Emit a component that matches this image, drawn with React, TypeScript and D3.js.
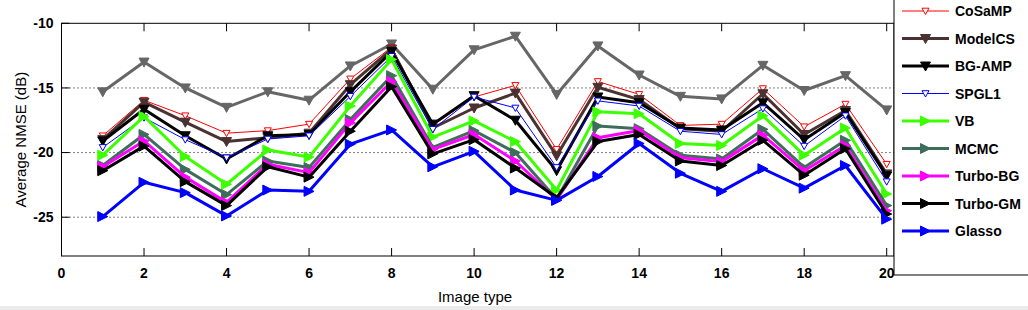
import React from 'react';
import {scaleLinear, line, range} from 'd3';

const width = 1028;
const height = 310;
const plot = {left: 61.5, top: 23.3, right: 894, bottom: 256};

const imageType = range(1, 21);
const xTicks = [0, 2, 4, 6, 8, 10, 12, 14, 16, 18, 20];
const yTicks = [-10, -15, -20, -25];
const gridTicks = [-15, -20, -25];

const unnamed = [-15.3, -13.0, -15.0, -16.5, -15.3, -15.95, -13.3, -11.6, -15.1, -12.05, -11.0, -15.5, -11.75, -14.0, -15.65, -15.85, -13.25, -15.2, -14.05, -16.7];
const cosamp = [-18.7, -15.95, -17.15, -18.5, -18.3, -17.8, -14.3, -11.85, -17.9, -15.7, -14.8, -19.75, -14.5, -15.5, -17.9, -17.8, -15.05, -18.0, -16.25, -20.9];
const modelcs = [-19.0, -16.1, -17.65, -19.15, -18.85, -18.5, -14.75, -12.0, -18.1, -16.55, -15.4, -20.25, -14.95, -15.9, -18.15, -18.35, -15.45, -18.6, -16.75, -21.65];
const bgamp = [-19.1, -16.65, -18.7, -20.5, -18.7, -18.6, -15.3, -12.2, -17.8, -15.6, -17.5, -21.4, -15.7, -16.15, -18.1, -18.25, -16.15, -19.0, -16.9, -21.8];
const spgl1 = [-19.6, -17.3, -19.0, -20.4, -18.95, -18.7, -15.65, -12.55, -18.2, -15.7, -16.55, -21.15, -16.0, -16.4, -18.35, -18.6, -16.6, -19.5, -17.15, -22.25];
const vb = [-20.2, -17.2, -20.3, -22.45, -19.8, -20.35, -16.4, -12.8, -18.8, -17.55, -19.15, -22.9, -16.85, -17.0, -19.3, -19.45, -17.15, -20.2, -18.1, -23.2];
const mcmc = [-21.0, -18.6, -21.3, -23.25, -20.65, -21.15, -17.45, -14.05, -19.6, -18.3, -20.0, -23.6, -17.95, -18.15, -20.2, -20.5, -18.2, -21.15, -19.05, -24.1];
const turboBG = [-21.1, -19.1, -21.9, -23.85, -20.9, -21.55, -17.7, -14.5, -19.75, -18.6, -20.65, -23.65, -18.85, -18.3, -20.4, -20.7, -18.65, -21.4, -19.45, -24.5];
const turboGM = [-21.4, -19.5, -22.25, -24.1, -21.1, -21.9, -18.35, -14.9, -20.1, -19.0, -21.2, -23.5, -19.15, -18.6, -20.65, -21.0, -19.05, -21.75, -19.7, -24.75];
const glasso = [-24.95, -22.3, -23.1, -24.9, -22.9, -23.0, -19.35, -18.25, -21.1, -19.9, -22.9, -23.7, -21.85, -19.3, -21.6, -23.0, -21.25, -22.75, -21.0, -25.15];

// name, values, colour, thick?, marker ('down' | 'downOpen' | 'right')
const series = [
  {name: '', values: unnamed, color: '#666666', w: 3, marker: 'down'},
  {name: 'CoSaMP', values: cosamp, color: '#ff0000', w: 1, marker: 'downOpen'},
  {name: 'ModelCS', values: modelcs, color: '#4b3131', w: 3, marker: 'down'},
  {name: 'BG-AMP', values: bgamp, color: '#000000', w: 3, marker: 'down'},
  {name: 'SPGL1', values: spgl1, color: '#0000ff', w: 1, marker: 'downOpen'},
  {name: 'VB', values: vb, color: '#3cff00', w: 3, marker: 'right'},
  {name: 'MCMC', values: mcmc, color: '#3e6e5b', w: 3, marker: 'right'},
  {name: 'Turbo-BG', values: turboBG, color: '#ff00ff', w: 3, marker: 'right'},
  {name: 'Turbo-GM', values: turboGM, color: '#000000', w: 3, marker: 'right'},
  {name: 'Glasso', values: glasso, color: '#0000ff', w: 3, marker: 'right'},
];

const font = 'Arial, "Liberation Sans", Helvetica, sans-serif';

const Marker = ({x, y, kind, color}: {x: number; y: number; kind: string; color: string}) => {
  if (kind === 'right') {
    const s = 5;
    return <path d={`M${x - s},${y - s}L${x + s},${y}L${x - s},${y + s}Z`} fill={color} stroke={color} strokeWidth={1} />;
  }
  const s = kind === 'down' ? 5 : 3.5;
  return (
    <path
      d={`M${x - s},${y - s * 0.8}L${x + s},${y - s * 0.8}L${x},${y + s}Z`}
      fill={kind === 'down' ? color : 'white'}
      stroke={color}
      strokeWidth={1}
    />
  );
};

export default function App() {
  const xScale = scaleLinear().domain([0, 20]).range([61.5, 886.7]);
  const yScale = scaleLinear().domain([-10, -28]).range([plot.top, plot.bottom]);
  const path = line<number>()
    .x((_, i) => xScale(imageType[i]))
    .y((d) => yScale(d));

  const legendX = 894;
  const legendY = (i: number) => 11 + i * 27.5;

  return (
    <svg width={width} height={height} style={{position: 'absolute', left: 0, top: 0, background: 'white'}} fontFamily={font}>
      <rect x={0} y={306} width={width} height={4} fill="#ebebeb" />
      {gridTicks.map((t) => (
        <line key={t} x1={plot.left} x2={plot.right} y1={yScale(t)} y2={yScale(t)} stroke="black" strokeWidth={1} strokeDasharray="1,3" />
      ))}
      <rect x={plot.left} y={plot.top} width={plot.right - plot.left} height={plot.bottom - plot.top} fill="none" stroke="black" strokeWidth={1} />
      {xTicks.map((t) => (
        <g key={t}>
          <line x1={xScale(t)} x2={xScale(t)} y1={plot.bottom} y2={plot.bottom - 8} stroke="black" />
          <line x1={xScale(t)} x2={xScale(t)} y1={plot.top} y2={plot.top + 8} stroke="black" />
          <text x={xScale(t)} y={plot.bottom + 22} textAnchor="middle" fontSize={14} fontWeight="bold">{t}</text>
        </g>
      ))}
      {yTicks.map((t) => (
        <g key={t}>
          <line x1={plot.left} x2={plot.left + 8} y1={yScale(t)} y2={yScale(t)} stroke="black" />
          <text x={plot.left - 8} y={yScale(t)} dy="0.35em" textAnchor="end" fontSize={14} fontWeight="bold">{t}</text>
        </g>
      ))}
      {series.map((s) => (
        <g key={s.name || 'gray'}>
          <path d={path(s.values) || ''} fill="none" stroke={s.color} strokeWidth={s.w} strokeLinejoin="round" />
          {s.values.map((v, i) => (
            <Marker key={i} x={xScale(imageType[i])} y={yScale(v)} kind={s.marker} color={s.color} />
          ))}
        </g>
      ))}
      <text transform={`translate(26,${(plot.top + plot.bottom) / 2}) rotate(-90)`} textAnchor="middle" fontSize={15}>Average NMSE (dB)</text>
      <text x={475} y={302} textAnchor="middle" fontSize={15}>Image type</text>

      <rect x={legendX} y={-2} width={200} height={277} fill="white" stroke="black" strokeWidth={1} />
      {series.filter((s) => s.name).map((s, i) => (
        <g key={s.name}>
          <line x1={902} x2={949} y1={legendY(i)} y2={legendY(i)} stroke={s.color} strokeWidth={s.w} />
          <Marker x={925.5} y={legendY(i)} kind={s.marker} color={s.color} />
          <text x={955} y={legendY(i)} dy="0.36em" fontSize={14} fontWeight="bold">{s.name}</text>
        </g>
      ))}
    </svg>
  );
}
